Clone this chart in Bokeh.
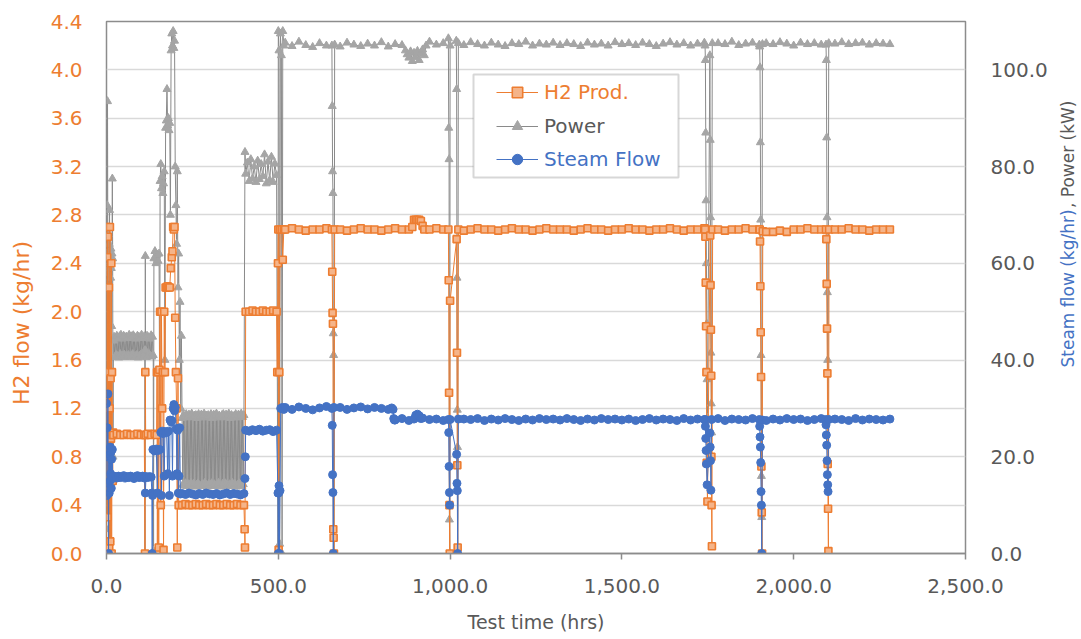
import math
from bokeh.plotting import figure
from bokeh.models import (Range1d, LinearAxis, FixedTicker, NumeralTickFormatter,
                          Legend, LegendItem, Label, BoxAnnotation, ColumnDataSource)
from bokeh.embed import file_html
from bokeh.resources import INLINE

# ---------------- data ----------------
X_TICKS = [0, 500, 1000, 1500, 2000, 2500]
Y_TICKS = [0.0, 0.4, 0.8, 1.2, 1.6, 2.0, 2.4, 2.8, 3.2, 3.6, 4.0, 4.4]
R_TICKS = [0, 20, 40, 60, 80, 100]

# H2 production (kg/hr), irregular start of the test
h2_t = [0, 1, 2, 3, 4, 5, 6, 7, 8, 9, 10, 11, 12, 13, 14, 15, 16, 17, 18, 19, 20,
        30, 40, 50, 60, 70, 80, 90, 100, 110, 112, 113, 114, 120, 130, 140, 146,
        147, 148, 150, 152, 154, 156, 158, 160, 162, 164, 166, 168, 170, 172, 175, 178,
        181, 184, 187, 190, 192, 194, 196, 198, 200, 202, 204, 206, 208, 210,
        220, 230, 240, 250, 260, 270, 280, 290, 300, 310, 320, 330, 340, 350, 360, 370,
        380, 390, 400, 402, 403, 405, 415, 425, 435, 445, 455, 465, 475, 485, 495,
        497, 499, 500, 501, 503, 505, 510, 513, 516]
h2_v = [0.02, 2.70, 2.45, 0.30, 2.62, 1.50, 0.00, 2.20, 0.05, 1.20, 2.70, 0.10, 1.45, 0.95, 2.40, 0.00, 1.50, 0.98, 0.60, 1.00, 0.98,
        0.99, 0.98, 0.98, 0.99, 0.98, 0.98, 0.99, 0.98, 0.98, 0.00, 1.50, 0.98, 0.99, 0.98, 0.99, 0.98,
        1.50, 0.00, 1.50, 0.05, 1.52, 2.00, 0.40, 2.00, 1.20, 1.50, 0.03, 2.00, 1.50, 2.20, 2.20, 2.21,
        2.20, 2.20, 2.36, 2.45, 2.50, 2.70, 2.68, 2.70, 1.95, 1.50, 1.20, 0.05, 1.45, 0.40,
        0.40, 0.41, 0.40, 0.40, 0.41, 0.40, 0.40, 0.41, 0.40, 0.40, 0.41, 0.40, 0.40, 0.41, 0.40, 0.40,
        0.41, 0.40, 0.40, 0.20, 0.05, 2.00, 2.00, 2.01, 2.00, 2.00, 2.01, 2.00, 2.00, 2.01, 2.00,
        1.50, 2.40, 2.68, 0.03, 1.50, 2.68, 2.68, 2.43, 2.68]

# Power (kW), irregular points
power_t = [0, 1, 2, 3, 4, 5, 6, 7, 8, 9, 10, 11, 12, 13, 14, 15, 16, 17, 18, 19, 20,
           137, 138, 141, 144, 147, 150, 153, 155, 156, 158, 160, 162,
           164, 166, 168, 170, 172, 174, 176, 178, 180, 182, 184, 186, 188, 190, 192, 194, 196,
           198, 200, 202, 204, 206, 208, 210, 212, 214, 216, 218,
           403, 499, 500, 502, 504, 506, 509, 511, 513, 516]
power_v = [5.0, 62.0, 72.0, 93.5, 58.0, 66.0, 2.0, 59.0, 64.0, 71.0, 3.0, 60.0, 57.0, 63.0, 59.0, 47.0, 62.0, 77.5, 61.0, 20.0, 44.0,
           0.5, 61.0, 62.5, 60.0, 61.8, 60.5, 62.0, 25.0, 77.0, 80.5, 75.5, 78.0,
           74.5, 76.5, 79.0, 40.0, 88.0, 89.5, 96.0, 88.5, 90.0, 87.5, 89.0, 70.0, 104.0, 107.5, 105.0, 108.0, 104.5,
           106.0, 80.0, 72.0, 64.0, 79.0, 55.0, 62.0, 40.0, 52.0, 30.0, 45.0,
           83.0, 0.0, 108.0, 104.0, 2.0, 107.5, 103.0, 0.0, 108.0, 105.0]

# Steam flow (kg/hr), irregular start of the test
steam_t = [0, 1, 2, 3, 4, 5, 6, 7, 8, 9, 10, 11, 12, 13, 14, 15, 16, 17, 18, 20,
           25, 30, 35, 40, 45, 50, 55, 60, 65, 70, 75, 80, 85, 90, 95, 100, 105, 110, 113, 115, 120, 125, 130,
           132, 133, 134, 135, 140, 145, 148, 150, 155, 158, 160, 162, 165, 168, 170, 175, 178, 180, 183,
           185, 188, 190, 192, 194, 196, 198, 200, 203, 205, 207, 209, 211, 213, 215,
           220, 230, 240, 250, 260, 270, 280, 290, 300, 310, 320, 330, 340, 350, 360, 370, 380, 390, 400,
           403, 404, 405, 415, 425, 435, 445, 455, 465, 475, 485, 495,
           499, 500, 501, 502, 503, 505, 507, 512, 516]
steam_v = [31.0, 12.0, 26.0, 20.0, 33.0, 14.5, 0.0, 21.5, 12.5, 20.5, 15.0, 22.0, 16.5, 21.0, 13.5, 19.5, 16.0, 21.5, 15.5, 16.0,
           15.9, 15.6, 16.0, 15.7, 15.8, 16.1, 15.6, 15.9, 15.7, 16.0, 15.8, 15.5, 15.9, 16.1, 15.7, 15.8, 16.0, 15.6, 12.5, 15.9, 15.7, 15.9, 15.8,
           12.5, 0.0, 12.0, 21.5, 21.2, 21.6, 12.5, 21.3, 21.5, 25.0, 12.0, 25.3, 24.8, 16.0, 25.2, 25.0, 16.5, 25.3, 12.0,
           27.6, 27.2, 27.5, 16.0, 30.0, 30.8, 29.5, 30.2, 25.8, 16.5, 25.5, 12.5, 16.0, 26.0, 12.3,
           12.4, 12.2, 12.5, 12.3, 12.1, 12.4, 12.2, 12.5, 12.3, 12.2, 12.4, 12.1, 12.3, 12.5, 12.2, 12.4, 12.3, 12.1, 12.4,
           15.5, 20.0, 25.5, 25.3, 25.6, 25.4, 25.7, 25.3, 25.5, 25.6, 25.2, 25.5,
           12.5, 0.0, 12.5, 14.0, 0.0, 13.0, 30.0, 30.2, 29.8]

# regularly logged stretches: (first hour, logging interval h, values)
power_band_42 = (22, 2, [44.8, 40.6, 44.5, 41.0, 45.0, 40.8, 44.6, 40.5, 44.9, 41.2,
                         45.2, 40.7, 44.4, 40.9, 45.0, 41.1, 44.7, 40.6, 44.8, 40.8,
                         44.6, 41.0, 45.2, 40.7, 44.5, 40.9, 44.9, 41.2, 45.1, 40.6,
                         44.7, 40.8, 44.4, 41.0, 45.0, 40.5, 44.8, 40.9, 44.6, 41.1,
                         45.2, 40.7, 44.5, 40.8, 44.9, 41.0, 44.6, 40.6, 45.0, 40.9,
                         44.7, 41.2, 44.4, 40.8, 45.1, 40.7, 44.8, 41.0])
power_cycling = (220, 2, [28.0, 14.2, 28.6, 14.0, 28.3, 14.5, 28.8, 13.9, 28.1, 14.3,
                          28.7, 14.1, 28.4, 14.6, 28.9, 14.0, 28.2, 14.4, 28.5, 13.8,
                          28.6, 14.2, 28.0, 14.5, 28.8, 14.1, 28.3, 13.9, 28.7, 14.3,
                          28.4, 14.0, 28.9, 14.6, 28.1, 14.2, 28.5, 13.8, 28.6, 14.4,
                          28.2, 14.1, 28.8, 14.5, 28.0, 13.9, 28.7, 14.3, 28.4, 14.0,
                          28.9, 14.2, 28.3, 14.6, 28.5, 14.1, 28.1, 13.8, 28.6, 14.4,
                          28.8, 14.0, 28.2, 14.5, 28.7, 14.2, 28.4, 13.9, 28.9, 14.3,
                          28.0, 14.1, 28.6, 14.6, 28.3, 14.0, 28.5, 14.4, 28.8, 13.8,
                          28.1, 14.2, 28.7, 14.5, 28.4, 14.1, 28.9, 13.9, 28.2, 14.3,
                          28.6])
power_band_79 = (405, 5, [78.5, 80.8, 77.0, 81.5, 77.5, 80.0, 76.8, 81.2, 77.4, 80.5,
                          78.0, 82.5, 76.5, 81.0, 77.2, 82.0, 76.8, 80.6, 78.2])

# steady operation, logged every 20 h from 520 h to 2280 h
h2_flat = (520, 20, [2.68, 2.69, 2.68, 2.67, 2.68, 2.68, 2.69, 2.68, 2.68, 2.67,
                     2.68, 2.69, 2.68, 2.68, 2.67, 2.68, 2.69, 2.68, 2.68, 2.76,
                     2.72, 2.68, 2.69, 2.68, 2.68, 2.68, 2.67, 2.68, 2.69, 2.68,
                     2.68, 2.67, 2.68, 2.69, 2.68, 2.68, 2.67, 2.68, 2.69, 2.68,
                     2.68, 2.68, 2.67, 2.68, 2.69, 2.68, 2.68, 2.67, 2.68, 2.68,
                     2.69, 2.68, 2.68, 2.67, 2.68, 2.68, 2.69, 2.68, 2.67, 2.68,
                     2.68, 2.69, 2.68, 2.68, 2.67, 2.68, 2.68, 2.69, 2.68, 2.68,
                     2.66, 2.66, 2.67, 2.66, 2.68, 2.68, 2.69, 2.68, 2.68, 2.67,
                     2.68, 2.68, 2.69, 2.68, 2.68, 2.67, 2.68, 2.68, 2.68])
power_flat = (520, 20, [105.6, 104.9, 105.8, 105.1, 104.7, 105.5, 105.0, 105.3, 104.8, 105.6,
                        105.2, 104.9, 105.4, 105.0, 105.7, 104.8, 105.3, 105.1, 103.6, 102.9,
                        104.0, 105.8, 105.2, 105.5, 105.0, 105.4, 105.1, 105.7, 105.3, 105.0,
                        105.6, 105.2, 104.9, 105.5, 105.3, 105.8, 105.0, 105.4, 105.2, 105.6,
                        105.1, 105.5, 105.3, 104.9, 105.6, 105.2, 105.4, 105.0, 105.7, 105.3,
                        105.5, 105.1, 105.6, 105.3, 104.9, 105.4, 105.7, 105.2, 105.5, 105.0,
                        105.4, 105.6, 105.2, 105.5, 105.3, 105.8, 105.1, 105.4, 105.6, 105.2,
                        105.5, 105.3, 105.7, 105.4, 105.0, 105.6, 105.3, 105.5, 105.2, 105.6,
                        105.4, 105.7, 105.3, 105.5, 105.6, 105.2, 105.5, 105.4, 105.3])
steam_flat = (520, 20, [30.2, 29.8, 30.3, 30.0, 29.7, 30.1, 30.4, 29.9, 30.2, 29.8,
                        30.1, 30.3, 29.9, 30.2, 30.0, 29.8, 27.6, 27.9, 27.5, 28.4,
                        28.0, 27.7, 27.8, 27.5, 27.9, 27.6, 27.8, 27.7, 27.9, 27.5,
                        27.8, 27.6, 27.9, 27.7, 27.5, 27.8, 27.6, 27.9, 27.7, 27.8,
                        27.6, 27.9, 27.7, 27.5, 27.8, 27.6, 27.9, 27.7, 27.8, 27.6,
                        27.8, 27.5, 27.7, 27.9, 27.6, 27.8, 27.7, 27.5, 27.9, 27.6,
                        27.8, 27.7, 27.6, 27.9, 27.5, 27.8, 27.7, 27.6, 27.9, 27.7,
                        27.5, 27.8, 27.6, 27.9, 27.7, 27.8, 27.5, 27.7, 27.9, 27.6,
                        27.8, 27.7, 27.5, 27.9, 27.6, 27.8, 27.7, 27.6, 27.8])

# trips / transients (time h, value)
h2_events = [
    [(656, 2.68), (657, 2.33), (658, 1.99), (659, 1.90), (660, 0.20), (661, 0.13), (662, 0.00), (664, 2.68)],
    [(890, 2.70), (895, 2.76), (900, 2.76), (905, 2.76), (910, 2.76), (915, 2.75), (920, 2.71), (925, 2.68)],
    [(995, 2.68), (996, 2.26), (997, 1.33), (998, 0.40), (999, 0.00), (1000, 2.09), (1019, 2.60), (1020, 1.66),
     (1021, 0.73), (1022, 0.05), (1024, 2.68)],
    [(1742, 2.68), (1743, 2.62), (1744, 2.24), (1745, 1.88), (1746, 1.50), (1747, 0.75), (1749, 0.43),
     (1757, 2.63), (1758, 2.22), (1759, 1.85), (1760, 1.47), (1760.5, 0.80), (1761, 0.40), (1762, 0.06), (1764, 2.68)],
    [(1901, 2.68), (1902, 2.58), (1903, 2.21), (1904, 1.83), (1905, 1.46), (1906, 0.72), (1907, 0.34), (1908, 0.00), (1910, 2.665)],
    [(2094, 2.68), (2095, 2.60), (2096, 2.23), (2097, 1.86), (2098, 1.49), (2099, 0.74), (2100, 0.37), (2101, 0.02), (2103, 2.68)],
]
power_events = [
    [(111.5, 42.0), (112, 0.0), (113, 61.5), (113.5, 42.0)],
    [(656, 105.0), (657, 92.5), (658, 79.0), (659, 74.5), (660, 45.5), (661, 41.0), (662, 0.0), (664, 105.2)],
    [(870, 104.0), (875, 103.2), (880, 102.5), (885, 103.8), (890, 101.8), (895, 103.5), (900, 102.6),
     (905, 103.9), (910, 102.0), (915, 103.4), (920, 104.2), (925, 103.0), (930, 105.0)],
    [(995, 106.5), (996, 88.0), (997, 81.5), (998, 7.0), (999, 0.0), (1000, 105.0), (1018, 106.0),
     (1019, 96.0), (1020, 57.0), (1021, 29.7), (1021.5, 22.0), (1022, 0.0), (1024, 105.5)],
    [(1742, 105.0), (1743, 102.0), (1744, 87.0), (1745, 73.0), (1746, 60.0), (1747, 47.5), (1748, 36.0),
     (1749, 28.0), (1756, 103.0), (1757, 85.5), (1758, 69.5), (1759, 41.5), (1760, 31.0), (1761, 25.0), (1763, 105.5)],
    [(1901, 104.8), (1902, 100.5), (1903, 85.0), (1904, 69.0), (1905, 41.0), (1906, 16.0), (1907, 7.5), (1909, 105.3)],
    [(2094, 105.2), (2095, 102.0), (2096, 86.0), (2097, 69.5), (2098, 54.0), (2099, 40.0), (2100, 28.0), (2102, 105.5)],
]
steam_events = [
    [(656, 30.0), (657, 26.5), (658, 16.3), (659, 12.6), (660, 0.0), (662, 30.2)],
    [(830, 30.1), (834, 29.8), (836, 27.9), (838, 27.6)],
    [(895, 27.8), (900, 28.6), (905, 28.8), (910, 28.5), (915, 27.9)],
    [(995, 27.7), (996, 25.0), (997, 18.0), (998, 12.6), (999, 10.0), (1000, 27.7), (1019, 20.5), (1020, 14.5),
     (1021, 13.0), (1022, 0.0), (1024, 27.8)],
    [(1742, 27.7), (1743, 26.3), (1744, 23.8), (1745, 21.3), (1746, 18.5), (1748, 14.2), (1756, 24.9), (1757, 22.0),
     (1758, 19.2), (1759, 13.1), (1761, 27.7)],
    [(1901, 26.3), (1902, 24.1), (1903, 22.0), (1904, 18.8), (1905, 12.8), (1906, 10.0), (1907, 0.0), (1909, 27.6)],
    [(2093, 27.7), (2094, 26.6), (2095, 24.5), (2096, 22.4), (2097, 19.2), (2098, 16.3), (2099, 14.2), (2100, 12.8), (2102, 27.7)],
]

# ---------------- style ----------------
ORANGE = "#ED7D31"
GRAY = "#A5A5A5"
GRAY_LINE = "#8A8A8A"
BLUE = "#4472C4"
TXT = "#595959"
FRAME = "#8C8C8C"
FONT = "DejaVu Sans"


def build(t_pts, v_pts, segments, blocks):
    pts = list(zip(t_pts, v_pts))
    spans = [(b[0][0], b[-1][0]) for b in blocks]
    for t0, dt, vals in segments:
        for i, v in enumerate(vals):
            t = t0 + dt * i
            if not any(s <= t <= e for s, e in spans):
                pts.append((t, v))
    for b in blocks:
        pts.extend(b)
    pts.sort(key=lambda q: q[0])
    return ColumnDataSource(dict(t=[q[0] for q in pts], v=[q[1] for q in pts]))


src_h2 = build(h2_t, h2_v, [h2_flat], h2_events)
src_pw = build(power_t, power_v, [power_band_42, power_cycling, power_band_79, power_flat], power_events)
src_st = build(steam_t, steam_v, [steam_flat], steam_events)

p = figure(width=1080, height=635, x_range=Range1d(0, 2500), y_range=Range1d(0, 4.4),
           output_backend="svg", toolbar_location=None,
           min_border_left=106, min_border_right=115, min_border_top=21, min_border_bottom=81)
p.extra_y_ranges = {"right": Range1d(0, 110)}
p.background_fill_color = "white"
p.border_fill_color = "white"
p.outline_line_color = FRAME
p.outline_line_width = 1.5

p.xgrid.grid_line_color = None
p.ygrid.grid_line_color = "#D9D9D9"
p.ygrid.grid_line_width = 1.5

# left axis
p.yaxis.ticker = FixedTicker(ticks=Y_TICKS)
p.yaxis.formatter = NumeralTickFormatter(format="0.0")
p.yaxis.major_label_text_color = ORANGE
p.yaxis.major_label_text_font = FONT
p.yaxis.major_label_text_font_size = "20px"
p.yaxis.major_tick_line_color = None
p.yaxis.minor_tick_line_color = None
p.yaxis.major_tick_out = 0
p.yaxis.axis_line_color = None
p.yaxis.major_label_standoff = 24

# bottom axis
p.xaxis.ticker = FixedTicker(ticks=X_TICKS)
p.xaxis.formatter = NumeralTickFormatter(format="0,0.0")
p.xaxis.major_label_text_color = TXT
p.xaxis.major_label_text_font = FONT
p.xaxis.major_label_text_font_size = "20px"
p.xaxis.major_tick_line_color = FRAME
p.xaxis.major_tick_line_width = 1.5
p.xaxis.major_tick_out = 6
p.xaxis.major_tick_in = 0
p.xaxis.minor_tick_line_color = None
p.xaxis.axis_line_color = FRAME
p.xaxis.axis_line_width = 1.5
p.xaxis.major_label_standoff = 19
p.xaxis.axis_label = "Test time (hrs)"
p.xaxis.axis_label_text_font = FONT
p.xaxis.axis_label_text_font_size = "19px"
p.xaxis.axis_label_text_font_style = "normal"
p.xaxis.axis_label_text_color = TXT
p.xaxis.axis_label_standoff = 15

# right axis
ra = LinearAxis(y_range_name="right", ticker=FixedTicker(ticks=R_TICKS),
                formatter=NumeralTickFormatter(format="0.0"))
ra.major_label_text_color = TXT
ra.major_label_text_font = FONT
ra.major_label_text_font_size = "20px"
ra.major_tick_line_color = None
ra.minor_tick_line_color = None
ra.major_tick_out = 0
ra.axis_line_color = None
ra.major_label_standoff = 25
p.add_layout(ra, "right")

# series
pw_line = p.line("t", "v", source=src_pw, y_range_name="right", line_color=GRAY_LINE, line_width=1)
pw_mark = p.scatter("t", "v", source=src_pw, y_range_name="right", marker="triangle", size=8,
                    fill_color=GRAY, line_color=GRAY, line_width=1)
h2_line = p.line("t", "v", source=src_h2, line_color=ORANGE, line_width=1)
h2_mark = p.scatter("t", "v", source=src_h2, marker="square", size=7, fill_color="#F5B489",
                    line_color=ORANGE, line_width=1.6)
st_line = p.line("t", "v", source=src_st, y_range_name="right", line_color=BLUE, line_width=1)
st_mark = p.scatter("t", "v", source=src_st, y_range_name="right", marker="circle", size=8,
                    fill_color=BLUE, line_color=BLUE, line_width=1)

# legend frame
box = BoxAnnotation(left=367, right=572, bottom=376, top=479,
                    left_units="screen", right_units="screen", bottom_units="screen", top_units="screen",
                    fill_color="white", fill_alpha=1.0, line_color="#7A7A7A", line_width=2)
p.add_layout(box)

for name, rends, color, ypos in [("H2 Prod.", [h2_line, h2_mark], ORANGE, 448),
                                 ("Power", [pw_line, pw_mark], TXT, 414),
                                 ("Steam Flow", [st_line, st_mark], BLUE, 381)]:
    lg = Legend(items=[LegendItem(label=name, renderers=rends)], location=(390, ypos),
                border_line_color=None, background_fill_alpha=0, padding=0, margin=0, spacing=0,
                glyph_width=42, glyph_height=26, label_height=26, label_standoff=6,
                label_text_font=FONT, label_text_font_size="20px", label_text_color=color)
    p.add_layout(lg, "center")

# axis titles (held in side panels so they are not clipped; placed in canvas pixels)
p.add_layout(Label(x=21, y=319, x_units="canvas", y_units="canvas", text="H2  flow (kg/hr)",
                   angle=math.pi / 2, text_align="center", text_baseline="middle",
                   text_font=FONT, text_font_size="22px", text_color=ORANGE), "left")
p.add_layout(Label(x=1067, y=367, x_units="canvas", y_units="canvas", text="Steam flow (kg/hr)",
                   angle=math.pi / 2, text_align="left", text_baseline="middle",
                   text_font=FONT, text_font_size="17px", text_color=BLUE), "right")
p.add_layout(Label(x=1067, y=100, x_units="canvas", y_units="canvas", text=", Power (kW)",
                   angle=math.pi / 2, text_align="right", text_baseline="middle",
                   text_font=FONT, text_font_size="17px", text_color=TXT), "left")

open("out.html", "w").write(file_html(p, INLINE))
